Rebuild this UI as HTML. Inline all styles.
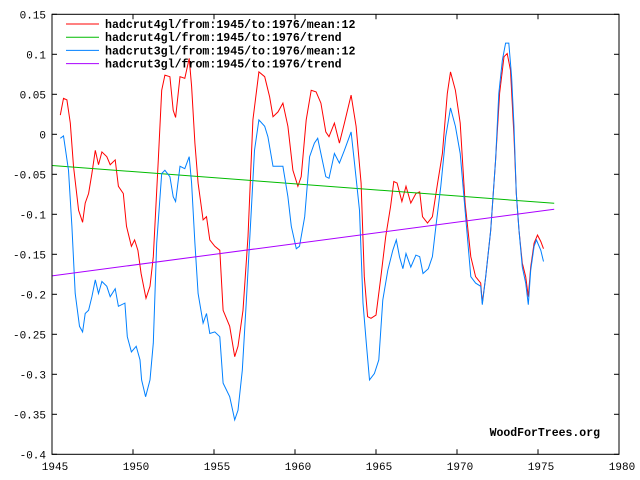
<!DOCTYPE html>
<html><head><meta charset="utf-8"><style>
body{margin:0;background:#fff;}
svg{display:block;font-family:"Liberation Mono",monospace;}
</style></head><body>
<svg id="chart" width="640" height="480" viewBox="0 0 640 480" xmlns="http://www.w3.org/2000/svg">
<rect x="0" y="0" width="640" height="480" fill="#fff"/>
<g id="plot"></g>
<g id="axes"></g>
<g id="legend"></g>
<text x="600" y="436" text-anchor="end" font-size="11.5" font-weight="bold" fill="#000">WoodForTrees.org</text>
</svg>
<script>
const xTicks=[1945,1950,1955,1960,1965,1970,1975,1980];
const yTicks=[0.15,0.1,0.05,0,-0.05,-0.1,-0.15,-0.2,-0.25,-0.3,-0.35,-0.4];
const yTickLabels=["0.15","0.1","0.05","0","-0.05","-0.1","-0.15","-0.2","-0.25","-0.3","-0.35","-0.4"];
const h4Years=[1945.51,1945.71,1945.92,1946.13,1946.33,1946.64,1946.89,1947.05,1947.26,1947.46,1947.67,1947.87,1948.08,1948.38,1948.59,1948.9,1949.1,1949.4,1949.6,1949.9,1950.1,1950.3,1950.5,1950.8,1951.05,1951.25,1951.56,1951.77,1951.97,1952.28,1952.48,1952.63,1952.9,1953.2,1953.47,1953.62,1953.82,1954.02,1954.33,1954.54,1954.74,1955.05,1955.36,1955.56,1955.97,1956.28,1956.48,1956.79,1957.1,1957.4,1957.77,1958.13,1958.43,1958.64,1958.95,1959.25,1959.56,1959.87,1960.18,1960.38,1960.69,1961.0,1961.3,1961.6,1961.9,1962.1,1962.43,1962.74,1963.05,1963.46,1963.77,1964.08,1964.28,1964.48,1964.69,1965.0,1965.3,1965.6,1965.9,1966.1,1966.3,1966.6,1966.85,1967.15,1967.46,1967.7,1967.87,1968.18,1968.48,1968.8,1969.1,1969.4,1969.6,1969.9,1970.2,1970.5,1970.85,1971.15,1971.46,1971.56,1971.77,1972.08,1972.38,1972.63,1972.9,1973.1,1973.3,1973.52,1973.66,1973.83,1974.03,1974.24,1974.4,1974.55,1974.76,1974.97,1975.17,1975.34];
const h4Values=[0.024,0.045,0.043,0.014,-0.040,-0.095,-0.110,-0.086,-0.074,-0.049,-0.020,-0.038,-0.022,-0.028,-0.038,-0.032,-0.065,-0.074,-0.115,-0.140,-0.132,-0.145,-0.174,-0.205,-0.190,-0.153,-0.032,0.055,0.074,0.072,0.030,0.021,0.072,0.070,0.095,0.060,-0.011,-0.061,-0.107,-0.103,-0.132,-0.140,-0.145,-0.220,-0.240,-0.278,-0.265,-0.220,-0.128,0.018,0.078,0.072,0.047,0.022,0.028,0.039,0.010,-0.045,-0.065,-0.053,0.018,0.055,0.053,0.039,0.003,-0.003,0.014,-0.011,0.014,0.049,0.010,-0.061,-0.178,-0.228,-0.230,-0.226,-0.178,-0.128,-0.090,-0.059,-0.061,-0.084,-0.065,-0.086,-0.074,-0.072,-0.103,-0.111,-0.103,-0.061,-0.024,0.051,0.078,0.055,0.014,-0.086,-0.153,-0.178,-0.186,-0.211,-0.178,-0.120,-0.032,0.051,0.097,0.101,0.080,-0.003,-0.074,-0.120,-0.161,-0.178,-0.203,-0.166,-0.136,-0.126,-0.134,-0.143];
const h3Years=[1945.51,1945.71,1946.02,1946.23,1946.43,1946.7,1946.89,1947.05,1947.26,1947.46,1947.67,1947.87,1948.08,1948.38,1948.59,1948.9,1949.1,1949.5,1949.65,1949.9,1950.2,1950.43,1950.53,1950.78,1951.05,1951.25,1951.46,1951.77,1951.97,1952.28,1952.48,1952.63,1952.9,1953.2,1953.47,1953.62,1953.82,1954.02,1954.33,1954.54,1954.74,1955.05,1955.36,1955.56,1955.97,1956.28,1956.48,1956.75,1957.0,1957.3,1957.5,1957.77,1958.13,1958.33,1958.64,1958.95,1959.25,1959.56,1959.77,1960.08,1960.28,1960.6,1960.9,1961.2,1961.4,1961.6,1961.9,1962.1,1962.43,1962.74,1963.05,1963.46,1963.67,1963.98,1964.2,1964.4,1964.6,1964.9,1965.17,1965.42,1965.73,1966.04,1966.25,1966.45,1966.66,1966.85,1967.15,1967.46,1967.7,1967.9,1968.23,1968.48,1968.7,1969.0,1969.3,1969.6,1969.9,1970.2,1970.5,1970.85,1971.15,1971.46,1971.56,1971.77,1972.08,1972.38,1972.58,1972.8,1973.0,1973.2,1973.37,1973.52,1973.66,1973.83,1974.03,1974.24,1974.4,1974.55,1974.76,1974.9,1975.17,1975.34];
const h3Values=[-0.005,-0.002,-0.045,-0.115,-0.199,-0.240,-0.247,-0.224,-0.220,-0.203,-0.182,-0.199,-0.184,-0.190,-0.203,-0.193,-0.215,-0.211,-0.253,-0.272,-0.265,-0.282,-0.307,-0.328,-0.307,-0.261,-0.136,-0.049,-0.045,-0.053,-0.078,-0.084,-0.040,-0.043,-0.028,-0.061,-0.136,-0.199,-0.236,-0.224,-0.249,-0.247,-0.253,-0.311,-0.328,-0.357,-0.345,-0.295,-0.207,-0.095,-0.020,0.018,0.010,-0.003,-0.040,-0.040,-0.040,-0.078,-0.115,-0.143,-0.140,-0.103,-0.028,-0.011,-0.005,-0.024,-0.053,-0.055,-0.024,-0.036,-0.020,0.003,-0.036,-0.095,-0.211,-0.261,-0.307,-0.299,-0.282,-0.207,-0.170,-0.145,-0.132,-0.153,-0.168,-0.149,-0.166,-0.151,-0.153,-0.174,-0.168,-0.153,-0.115,-0.065,-0.003,0.033,0.010,-0.024,-0.095,-0.178,-0.186,-0.190,-0.213,-0.178,-0.120,-0.032,0.051,0.093,0.114,0.114,0.072,0.010,-0.074,-0.120,-0.166,-0.186,-0.213,-0.170,-0.140,-0.132,-0.145,-0.159];
const trend4Years=[1945,1976];
const trend4Values=[-0.039,-0.0862];
const trend3Years=[1945,1976];
const trend3Values=[-0.177,-0.0936];
const seriesNames=["hadcrut4gl/from:1945/to:1976/mean:12","hadcrut4gl/from:1945/to:1976/trend","hadcrut3gl/from:1945/to:1976/mean:12","hadcrut3gl/from:1945/to:1976/trend"];

const L=52,R=619,T=14.3,B=454.3;
function xs(v){return L+(v-1945)*(R-L)/35;}
function ys(v){return T+(0.15-v)*(B-T)/0.55;}
const NS="http://www.w3.org/2000/svg";
function mk(tag,parent){const e=document.createElementNS(NS,tag);parent.appendChild(e);return e;}
const plot=document.getElementById('plot'),axes=document.getElementById('axes'),legend=document.getElementById('legend');

function line(years,vals,color,name){
  const p=mk('polyline',plot);
  
  
  p.setAttribute('points',years.map((y,i)=>xs(y).toFixed(1)+','+ys(vals[i]).toFixed(1)).join(' '));
  p.setAttribute('fill','none');p.setAttribute('stroke',color);p.setAttribute('stroke-width','1');
}
line(h4Years,h4Values,'#ff0000','hadcrut4-mean-line');
line(trend4Years,trend4Values,'#00bb00','hadcrut4-trend-line');
line(h3Years,h3Values,'#0080ff','hadcrut3-mean-line');
line(trend3Years,trend3Values,'#aa00ff','hadcrut3-trend-line');

const frame=mk('rect',axes);


frame.setAttribute('x',L);frame.setAttribute('y',T);frame.setAttribute('width',R-L);frame.setAttribute('height',B-T);
frame.setAttribute('fill','none');frame.setAttribute('stroke','#000');

xTicks.forEach(t=>{
  const x=xs(t);
  [[B,B-5],[T,T+5]].forEach(([a,b])=>{const l=mk('line',axes);
    
    
    l.setAttribute('x1',x);l.setAttribute('x2',x);l.setAttribute('y1',a);l.setAttribute('y2',b);l.setAttribute('stroke','#000');});
  const tx=mk('text',axes);
  
  
  tx.setAttribute('x',x+3);tx.setAttribute('y',470);tx.setAttribute('text-anchor','middle');tx.setAttribute('font-size','11');tx.textContent=t;
});
yTicks.forEach((t,i)=>{
  const y=ys(t);
  [[L,L+5],[R,R-5]].forEach(([a,b])=>{const l=mk('line',axes);
    
    
    l.setAttribute('x1',a);l.setAttribute('x2',b);l.setAttribute('y1',y);l.setAttribute('y2',y);l.setAttribute('stroke','#000');});
  const tx=mk('text',axes);
  
  
  tx.setAttribute('x',46);tx.setAttribute('y',y+4);tx.setAttribute('text-anchor','end');tx.setAttribute('font-size','11');tx.textContent=yTickLabels[i];
});

const legColors=['#ff0000','#00bb00','#0080ff','#aa00ff'];
seriesNames.forEach((n,i)=>{
  const y=24+i*13.2;
  const l=mk('line',legend);
  
  
  l.setAttribute('x1',66);l.setAttribute('x2',99);l.setAttribute('y1',y);l.setAttribute('y2',y);l.setAttribute('stroke',legColors[i]);
  const tx=mk('text',legend);
  
  
  tx.setAttribute('x',105);tx.setAttribute('y',y+4);tx.setAttribute('font-size','11.6');tx.setAttribute('font-weight','bold');tx.textContent=n;
});
</script>
</body></html>
